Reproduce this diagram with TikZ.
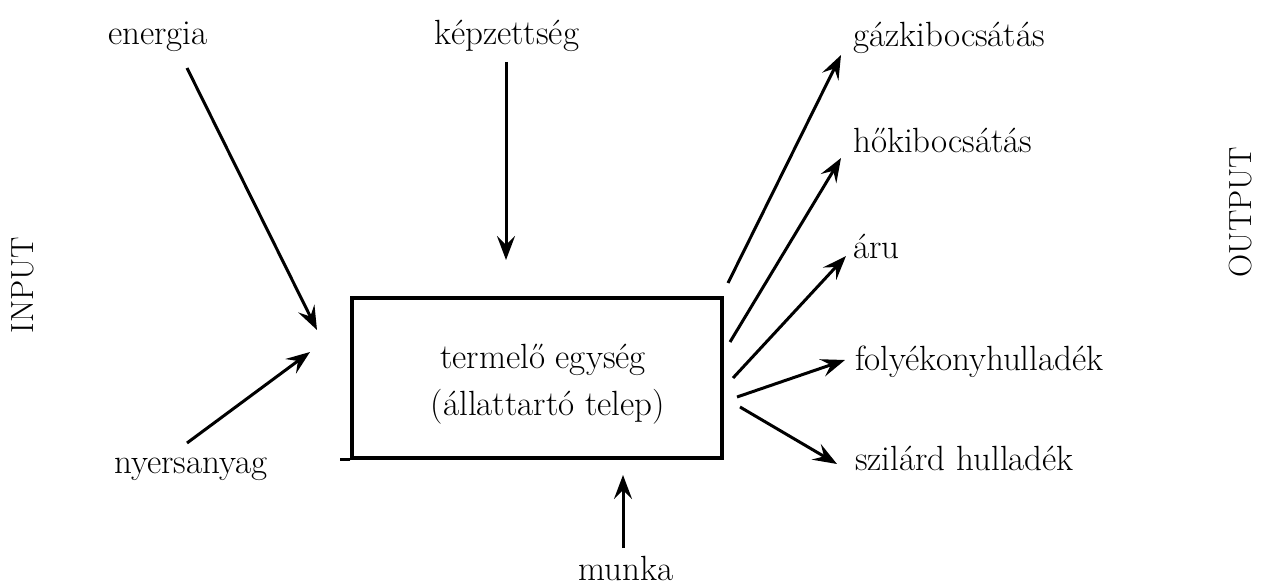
\documentclass[tikz,border=0pt]{standalone}
\usetikzlibrary{arrows.meta}
\begin{document}
\begin{tikzpicture}[x=1pt,y=-1pt,
  lbl/.style={font=\fontsize{35}{40}\selectfont, inner sep=0pt},
  side/.style={font=\fontsize{32}{36}\selectfont, inner sep=0pt, rotate=90},
  arr/.style={line width=3pt, -{Stealth[length=24pt,width=18pt,inset=9pt]}},
  boxline/.style={line width=3.2pt}]
\useasboundingbox (0,0) rectangle (1263,586);
% labels
\node[lbl, anchor=base] (energia) at (158,45) {energia};
\node[lbl, anchor=base] (kepz) at (507,45) {képzettség};
\node[lbl, anchor=base west] (gaz) at (853,47) {gázkibocsátás};
\node[lbl, anchor=base west] (ho) at (853,152) {hőkibocsátás};
\node[lbl, anchor=base west] (aru) at (853,258) {áru};
\node[lbl, anchor=base west] (foly) at (855,370) {folyékonyhulladék};
\node[lbl, anchor=base west] (szil) at (855,470) {szilárd hulladék};
\node[lbl, anchor=base] (nyers) at (191,473) {nyersanyag};
\node[lbl, anchor=base] (munka) at (626,580) {munka};
\node[side] (input) at (23,285) {INPUT};
\node[side] (output) at (1241,212) {OUTPUT};
% box
\node[draw, boxline, minimum width=370pt, minimum height=160pt, inner sep=0pt] (box) at (537,378) {};
\draw[boxline] (box.south west) -- ++(-10,0);
\node[lbl, anchor=base] (t1) at (543,368) {termelő egység};
\node[lbl, anchor=base] (t2) at (548,415) {(állattartó telep)};
% arrow ends
\coordinate (eS) at (187,68);   \coordinate (eE) at (317,330);
\coordinate (nS) at (187,443);  \coordinate (nE) at (310,352);
\coordinate (kS) at (506,62);   \coordinate (kE) at (506,260);
\coordinate (mS) at (623,548);  \coordinate (mE) at (623,475);
\coordinate (gS) at (728,283);  \coordinate (gE) at (841,55);
\coordinate (hS) at (730,342);  \coordinate (hE) at (841,158);
\coordinate (aS) at (733,378);  \coordinate (aE) at (846,256);
\coordinate (fS) at (737,397);  \coordinate (fE) at (845,360);
\coordinate (sS) at (740,407);  \coordinate (sE) at (837,464);
\draw[arr] (eS) -- (eE);
\draw[arr] (nS) -- (nE);
\draw[arr] (kS) -- (kE);
\draw[arr] (mS) -- (mE);
\draw[arr] (gS) -- (gE);
\draw[arr] (hS) -- (hE);
\draw[arr] (aS) -- (aE);
\draw[arr] (fS) -- (fE);
\draw[arr] (sS) -- (sE);
\end{tikzpicture}
\end{document}
